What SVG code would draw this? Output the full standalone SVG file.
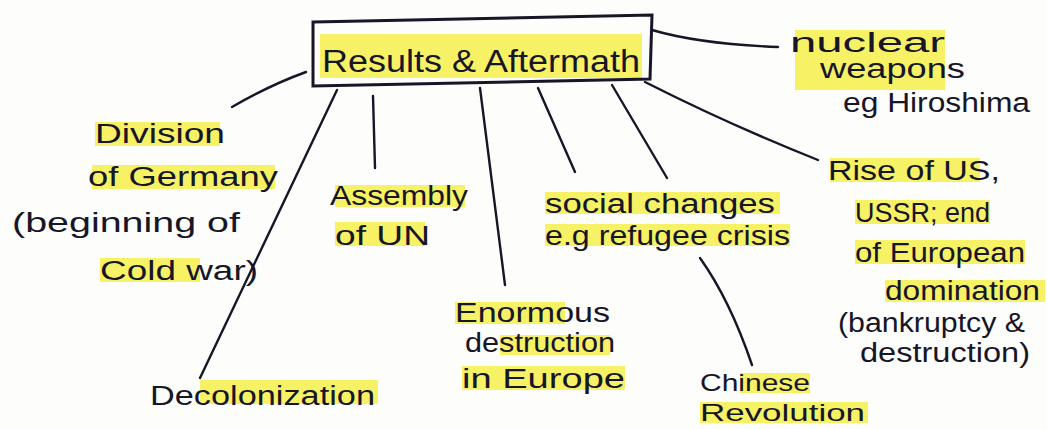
<svg xmlns="http://www.w3.org/2000/svg" width="1047" height="429" viewBox="0 0 1047 429">
<style>
.bg{fill:#fdfdfb}
.hl{fill:#f6f04a;opacity:0.85}
.t{font-family:"Liberation Sans","DejaVu Sans",sans-serif;font-size:27px;fill:#161628}
.tt{font-size:31px}
.sm{font-size:24px}
.ln{fill:none;stroke:#161628;stroke-width:2.4;stroke-linecap:round}
.box{fill:none;stroke:#161628;stroke-width:3}
</style>
<rect class="bg" x="0" y="0" width="1047" height="429"/>
<g id="connectors">
<path class="ln" d="M652,30 Q700,44 778,47"/>
<path class="ln" d="M645,82 Q730,125 818,160"/>
<path class="ln" d="M306,72 Q270,85 232,107"/>
<path class="ln" d="M337,90 L200,378"/>
<path class="ln" d="M373,96 L375,168"/>
<path class="ln" d="M480,88 L505,285"/>
<path class="ln" d="M538,88 L575,172"/>
<path class="ln" d="M612,85 L667,178"/>
<path class="ln" d="M700,258 Q730,300 752,365"/>
</g>
<g id="results-aftermath">
<rect class="hl" x="320" y="34" width="322" height="44"/>
<path class="box" d="M313,22 L652,15 L650,79 L313,86 Z"/>
<text class="t tt" x="322" y="72" textLength="318" lengthAdjust="spacingAndGlyphs">Results &amp; Aftermath</text>
</g>
<g id="nuclear-weapons">
<rect class="hl" x="795" y="30" width="150" height="60"/>
<text class="t" x="790" y="52" textLength="155" lengthAdjust="spacingAndGlyphs">nuclear</text>
<text class="t" x="820" y="78" textLength="145" lengthAdjust="spacingAndGlyphs">weapons</text>
<text class="t" x="843" y="112" textLength="187" lengthAdjust="spacingAndGlyphs">eg Hiroshima</text>
</g>
<g id="division-germany">
<rect class="hl" x="95" y="122" width="125" height="24"/>
<rect class="hl" x="92" y="165" width="183" height="24"/>
<rect class="hl" x="100" y="258" width="100" height="24"/>
<text class="t" x="95" y="143" textLength="130" lengthAdjust="spacingAndGlyphs">Division</text>
<text class="t" x="88" y="186" textLength="190" lengthAdjust="spacingAndGlyphs">of Germany</text>
<text class="t" x="12" y="232" textLength="228" lengthAdjust="spacingAndGlyphs">(beginning of</text>
<text class="t" x="100" y="280" textLength="158" lengthAdjust="spacingAndGlyphs">Cold war)</text>
</g>
<g id="assembly-un">
<rect class="hl" x="335" y="185" width="130" height="22"/>
<rect class="hl" x="335" y="222" width="90" height="24"/>
<text class="t" x="330" y="205" textLength="138" lengthAdjust="spacingAndGlyphs">Assembly</text>
<text class="t" x="335" y="245" textLength="95" lengthAdjust="spacingAndGlyphs">of UN</text>
</g>
<g id="social-changes">
<rect class="hl" x="545" y="192" width="235" height="22"/>
<rect class="hl" x="545" y="224" width="245" height="22"/>
<text class="t" x="545" y="213" textLength="230" lengthAdjust="spacingAndGlyphs">social changes</text>
<text class="t" x="545" y="245" textLength="245" lengthAdjust="spacingAndGlyphs">e.g refugee crisis</text>
</g>
<g id="rise-us-ussr">
<rect class="hl" x="830" y="158" width="150" height="24"/>
<rect class="hl" x="855" y="200" width="135" height="24"/>
<rect class="hl" x="855" y="240" width="170" height="24"/>
<rect class="hl" x="885" y="280" width="160" height="22"/>
<text class="t" x="828" y="180" textLength="172" lengthAdjust="spacingAndGlyphs">Rise of US,</text>
<text class="t" x="855" y="222" textLength="135" lengthAdjust="spacingAndGlyphs">USSR; end</text>
<text class="t" x="855" y="262" textLength="170" lengthAdjust="spacingAndGlyphs">of European</text>
<text class="t" x="885" y="300" textLength="155" lengthAdjust="spacingAndGlyphs">domination</text>
<text class="t" x="838" y="332" textLength="187" lengthAdjust="spacingAndGlyphs">(bankruptcy &amp;</text>
<text class="t" x="860" y="362" textLength="170" lengthAdjust="spacingAndGlyphs">destruction)</text>
</g>
<g id="enormous-destruction">
<rect class="hl" x="455" y="302" width="110" height="22"/>
<rect class="hl" x="500" y="335" width="110" height="20"/>
<rect class="hl" x="462" y="366" width="163" height="24"/>
<text class="t" x="455" y="322" textLength="155" lengthAdjust="spacingAndGlyphs">Enormous</text>
<text class="t" x="465" y="352" textLength="150" lengthAdjust="spacingAndGlyphs">destruction</text>
<text class="t" x="462" y="388" textLength="163" lengthAdjust="spacingAndGlyphs">in Europe</text>
</g>
<g id="chinese-revolution">
<rect class="hl" x="740" y="373" width="70" height="20"/>
<rect class="hl" x="700" y="402" width="168" height="21"/>
<text class="t sm" x="700" y="391" textLength="110" lengthAdjust="spacingAndGlyphs">Chinese</text>
<text class="t sm" x="700" y="421" textLength="165" lengthAdjust="spacingAndGlyphs">Revolution</text>
</g>
<g id="decolonization">
<rect class="hl" x="200" y="380" width="178" height="24"/>
<text class="t" x="150" y="405" textLength="225" lengthAdjust="spacingAndGlyphs">Decolonization</text>
</g>
</svg>
